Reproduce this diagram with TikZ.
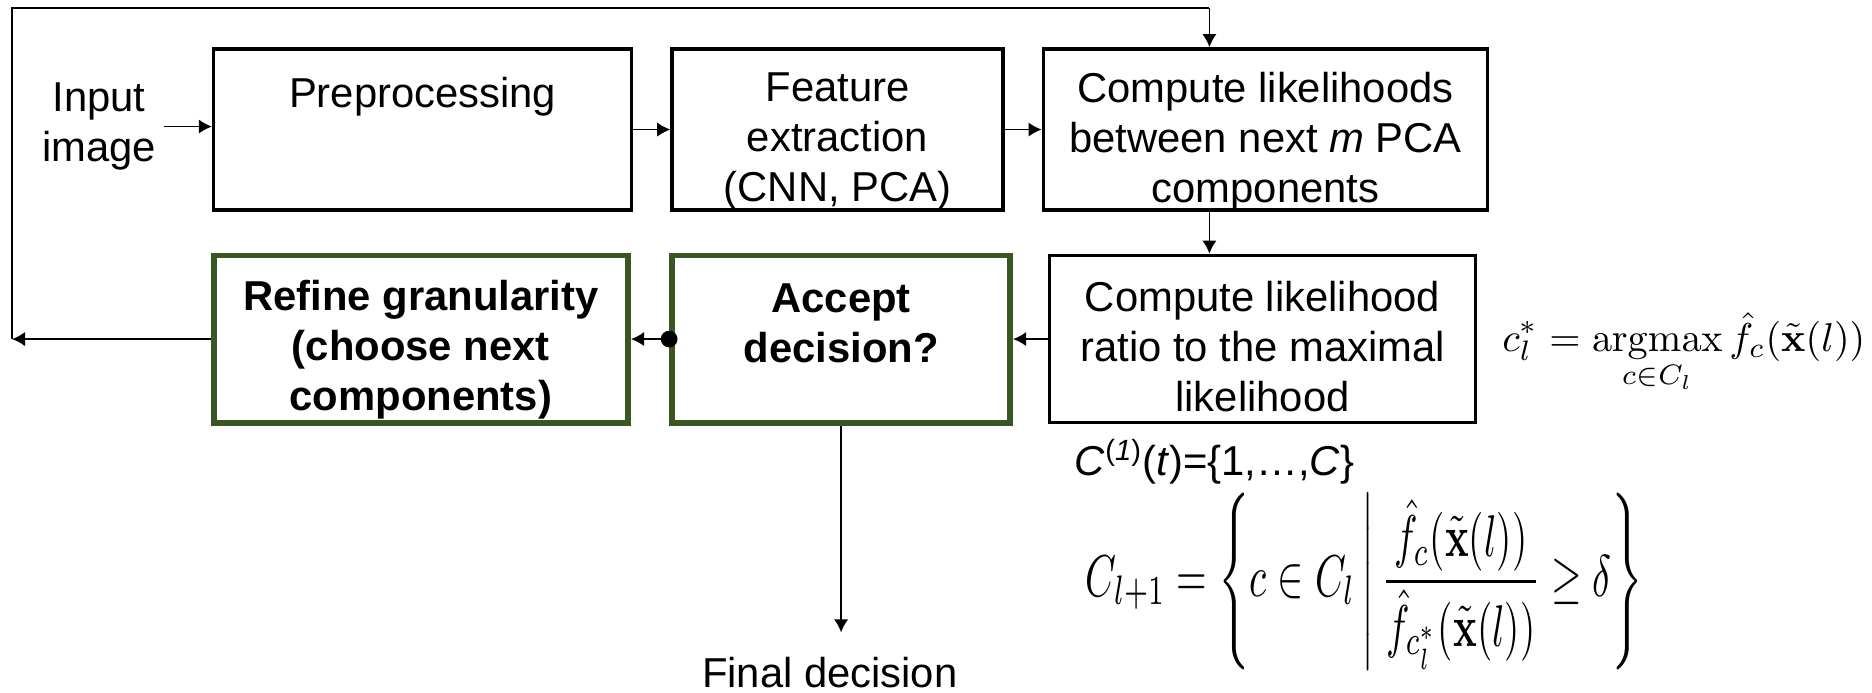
\documentclass[tikz,border=0pt]{standalone}
\usepackage[no-math]{fontspec}
\setmainfont{Liberation Sans}
\usepackage{amsmath}
\usepackage{graphicx}
\usetikzlibrary{arrows.meta}
\definecolor{dgreen}{HTML}{385723}
\begin{document}
\begin{tikzpicture}[x=0.5pt,y=-0.5pt,
  txt/.style={font=\fontsize{17.5}{21}\selectfont, align=center},
  btxt/.style={txt, font=\fontsize{17.5}{21}\selectfont\bfseries},
  box/.style={draw, line width=1.5pt, inner sep=0pt, minimum height=67.5pt},
  gbox/.style={draw=dgreen, line width=2.5pt, inner sep=0pt, minimum height=70pt},
  arr/.style={line width=0.75pt, -{Latex[length=5.5pt,width=6pt]}},
  ln/.style={line width=0.75pt}]
\useasboundingbox (0,0) rectangle (1568,580);
\fill[white] (0,0) rectangle (1568,580);

% boxes
\node[box, minimum width=175pt] (pre) at (354,108.5) {};
\node[box, minimum width=138.5pt] (feat) at (701.5,108.5) {};
\node[box, minimum width=186pt] (comp) at (1060,108.5) {};
\node[gbox, minimum width=173.5pt] (refine) at (352.5,284) {};
\node[gbox, minimum width=141.5pt] (accept) at (704.5,284) {};
\node[box, minimum width=178.5pt, minimum height=70pt] (ratio) at (1057.5,284) {};

% box texts
\node[txt, anchor=north] (preT) at ([yshift=-9pt]pre.north) {Preprocessing};
\node[txt] (featT) at ([yshift=-5pt]feat.center) {Feature\\extraction\\(CNN, PCA)};
\node[txt] (compT) at ([yshift=-5pt]comp.center) {Compute likelihoods\\between next \textit{m} PCA\\components};
\node[btxt] (refineT) at ([yshift=-4.5pt]refine.center) {Refine granularity\\(choose next\\components)};
\node[btxt] (acceptT) at ([yshift=-4pt]accept.center) {Accept\\decision?\\\mbox{}};
\node[txt] (ratioT) at ([yshift=-3pt]ratio.center) {Compute likelihood\\ratio to the maximal\\likelihood};

% free texts
\node[txt] (input) at (83,106) {Input\\image};
\node[txt, inner ysep=10pt] (final) at (695,563) {Final decision};

% connectors
\coordinate (tl) at (10,7);
\coordinate (bl) at (10,284);
\coordinate (tr) at (1013,7);
\draw[arr] (input.east) -- (input.east -| pre.west);
\draw[arr] (pre.east) -- (feat.west);
\draw[arr] (feat.east) -- (comp.west);
\draw[arr] (comp.south -| tr) -- (ratio.north -| tr);
\draw[arr] (ratio.west) -- (accept.east);
\draw[arr] (accept.west) -- (refine.east);
\fill (accept.west) circle (3.5pt);
\draw[arr] (refine.west) -- (bl);
\draw[ln] (bl) -- (tl) -- (tr);
\draw[arr] (tr) -- (tr |- comp.north);
\draw[arr] (accept.south) -- (accept.south |- final.north);

% formulas
\node[anchor=base west, inner sep=0pt] (argm) at (1258,294)
  {\resizebox{152pt}{!}{$\displaystyle c_l^* = \operatorname*{argmax}_{c\in C_l}\hat{f}_c(\tilde{\mathbf{x}}(l))$}};
\node[txt, anchor=west, inner sep=0pt] (c1) at (900,387)
  {\textit{C}\textsuperscript{(\textit{1})}(\textit{t})=\{1,…,\textit{C}\}};
\node[inner sep=0pt] (cl) at (1143,487)
  {\resizebox*{233.5pt}{74pt}{$\displaystyle C_{l+1} = \left\{ c\in C_l \,\middle|\, \frac{\hat{f}_c(\tilde{\mathbf{x}}(l))}{\hat{f}_{c_l^*}(\tilde{\mathbf{x}}(l))} \geq \delta \right\}$}};
\end{tikzpicture}
\end{document}
